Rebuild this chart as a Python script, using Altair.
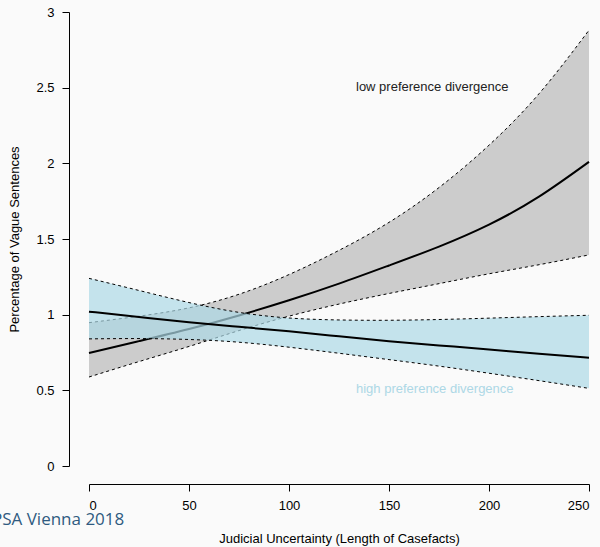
import altair as alt
import pandas as pd

# x grid (length of casefacts)
xs = [0, 25, 50, 75, 100, 125, 150, 175, 200, 225, 250]

# low preference divergence (gray band)
low_mean = [0.747, 0.825, 0.905, 0.995, 1.095, 1.205, 1.325, 1.45, 1.595, 1.78, 2.01]
low_hi = [0.947, 0.99, 1.045, 1.135, 1.265, 1.425, 1.61, 1.84, 2.12, 2.46, 2.88]
low_lo = [0.588, 0.69, 0.79, 0.895, 0.99, 1.07, 1.14, 1.205, 1.27, 1.33, 1.395]

# high preference divergence (blue band)
high_mean = [1.02, 0.985, 0.95, 0.92, 0.89, 0.857, 0.825, 0.797, 0.77, 0.742, 0.716]
high_hi = [1.24, 1.16, 1.08, 1.015, 0.978, 0.965, 0.963, 0.968, 0.977, 0.987, 0.996]
high_lo = [0.84, 0.842, 0.836, 0.818, 0.785, 0.745, 0.703, 0.66, 0.613, 0.564, 0.513]

y_ticks = [0, 0.5, 1, 1.5, 2, 2.5, 3]
x_ticks = [0, 50, 100, 150, 200, 250]

low = pd.DataFrame({"x": xs, "mean": low_mean, "lo": low_lo, "hi": low_hi})
high = pd.DataFrame({"x": xs, "mean": high_mean, "lo": high_lo, "hi": high_hi})

labels = pd.DataFrame({
    "x": [133.5, 133.5],
    "y": [2.505, 0.509],
    "t": ["low preference divergence", "high preference divergence"],
    "c": ["#222222", "#add8e6"],
})

INTERP = "natural"

X = alt.X("x:Q", scale=alt.Scale(domain=[0, 250], nice=False, zero=False),
          axis=alt.Axis(values=x_ticks, title="Judicial Uncertainty (Length of Casefacts)",
                        offset=18, tickSize=7, labelPadding=8, titlePadding=20,
                        format="d"))
Yscale = alt.Scale(domain=[0, 3], nice=False)


def band(df, fill, opacity):
    return alt.Chart(df).mark_area(color=fill, opacity=opacity, interpolate=INTERP).encode(
        x=X,
        y=alt.Y("lo:Q", scale=Yscale,
                axis=alt.Axis(values=y_ticks, title="Percentage of Vague Sentences",
                              offset=20, tickSize=7, labelPadding=8, titlePadding=14,
                              labelExpr="datum.value + ''", labelAngle=0)),
        y2="hi:Q",
    )


def line(df, field, dashed):
    kw = dict(color="black", interpolate=INTERP)
    if dashed:
        kw.update(strokeWidth=1, strokeDash=[3, 3])
    else:
        kw.update(strokeWidth=2)
    return alt.Chart(df).mark_line(**kw).encode(
        x=X, y=alt.Y(f"{field}:Q", scale=Yscale)
    )


text = alt.Chart(labels).mark_text(align="left", baseline="middle", fontSize=13,
                                    font="Liberation Sans").encode(
    x="x:Q", y="y:Q", text="t:N", color=alt.Color("c:N", scale=None)
)

footer = alt.Chart(pd.DataFrame({"t": ["PSA Vienna 2018"]})).mark_text(
    align="left", baseline="alphabetic", fontSize=17, font="Open Sans", color="#2f5a80"
).encode(x=alt.value(-97), y=alt.value(513), text="t:N")

chart = alt.layer(
    band(low, "#cccccc", 1),
    line(low, "mean", False),
    line(low, "hi", True),
    line(low, "lo", True),
    band(high, "#add8e6", 0.7),
    line(high, "mean", False),
    line(high, "hi", True),
    line(high, "lo", True),
    text,
    footer,
).properties(
    width=500, height=454,
    autosize=alt.AutoSizeParams(type="none"),
    padding={"left": 89, "top": 12, "right": 11, "bottom": 81},
    background="#fafafa",
).configure_view(stroke=None).configure_axis(
    grid=False, domainColor="black", tickColor="black", labelColor="black",
    titleColor="black", labelFont="Liberation Sans", titleFont="Liberation Sans",
    labelFontSize=13, titleFontSize=13, titleFontWeight="normal",
    domainWidth=1, tickWidth=1,
)

chart.save("out.html", embed_options={"renderer": "svg", "actions": False})
